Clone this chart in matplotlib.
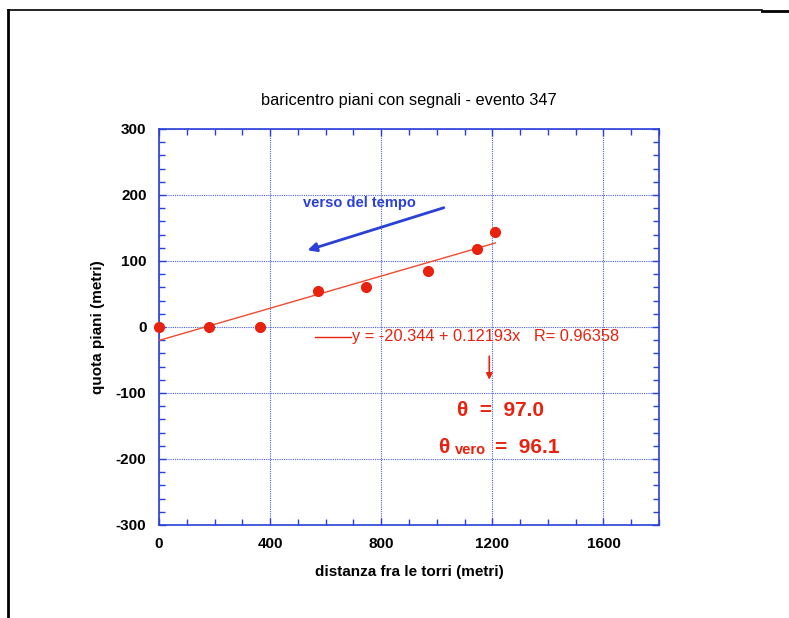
import numpy as np
import matplotlib.pyplot as plt
from matplotlib.ticker import MultipleLocator
from matplotlib.lines import Line2D

# baricentro piani con segnali - evento 347
dist = [0, 181, 364, 572, 744, 970, 1143, 1211]
quota = [0, 0, 0, 54.5, 60.5, 85, 118, 144]

intercept = -20.344
slope = 0.12193
fit_x = [0, 1211]

x_ticks = [0, 400, 800, 1200, 1600]
y_ticks = [-300, -200, -100, 0, 100, 200, 300]

BLUE = "#2a40d8"
RED = "#e8220e"

plt.rcParams["font.family"] = ["Liberation Sans", "DejaVu Sans"]
plt.rcParams["axes.unicode_minus"] = False

fig = plt.figure(figsize=(7.89, 6.18), dpi=100)
ax = fig.add_axes([159 / 789, 93 / 618, 500 / 789, 396 / 618])

ax.set_xlim(0, 1800)
ax.set_ylim(-300, 300)
ax.set_xticks(x_ticks)
ax.set_yticks(y_ticks)
ax.xaxis.set_minor_locator(MultipleLocator(100))
ax.yaxis.set_minor_locator(MultipleLocator(20))
ax.tick_params(which="both", direction="in", top=True, right=True,
               color=BLUE, width=1)
ax.tick_params(which="major", length=5, labelsize=11, pad=9)
ax.tick_params(which="minor", length=4)
for lab in ax.get_xticklabels() + ax.get_yticklabels():
    lab.set_fontweight("bold")
for sp in ax.spines.values():
    sp.set_color(BLUE)
    sp.set_linewidth(1.2)
ax.grid(True, which="major", color="#4a60e0", linestyle=(0, (1, 1)), linewidth=0.8)
ax.set_axisbelow(True)

fx = np.array(fit_x)
ax.plot(fx, intercept + slope * fx, color="#f04a30", linewidth=1, zorder=3)
ax.plot(dist, quota, "o", color=RED, markersize=7, zorder=4, clip_on=False)

ax.set_title("baricentro piani con segnali - evento 347", fontsize=11.8, pad=17)
ax.set_xlabel("distanza fra le torri (metri)", fontsize=11, fontweight="bold", labelpad=10)
ax.set_ylabel("quota piani (metri)", fontsize=11, fontweight="bold", labelpad=8)

# arrow "verso del tempo"
ax.annotate("", xy=(525, 115), xytext=(1035, 182),
            arrowprops=dict(arrowstyle="-|>", color=BLUE, lw=2, mutation_scale=13))
ax.text(720, 178, "verso del tempo", color=BLUE, fontsize=10.5,
        fontweight="bold", ha="center", va="bottom")

# fit legend
ax.plot([560, 690], [-15, -15], color=RED, linewidth=1)
ax.text(695, -15, "y = -20.344 + 0.12193x   R= 0.96358", color=RED,
        fontsize=11.8, ha="left", va="center")

ax.annotate("", xy=(1189, -84), xytext=(1189, -40),
            arrowprops=dict(arrowstyle="-|>", color=RED, lw=1.2, mutation_scale=9))
ax.text(1230, -126, "θ  =  97.0", color=RED, fontsize=15,
        fontweight="bold", ha="center", va="center")
ax.text(1005, -182, "θ", color=RED, fontsize=15, fontweight="bold",
        ha="left", va="center")
ax.text(1067, -186, "vero", color=RED, fontsize=10.5, fontweight="bold",
        ha="left", va="center")
ax.text(1208, -182, "=  96.1", color=RED, fontsize=15, fontweight="bold",
        ha="left", va="center")

# outer frame
fig.add_artist(Line2D([8 / 789, 8 / 789], [0, 608 / 618], color="black", lw=2))
fig.add_artist(Line2D([8 / 789, 762 / 789], [608 / 618, 608 / 618], color="black", lw=1.2))
fig.add_artist(Line2D([762 / 789, 789 / 789], [607 / 618, 607 / 618], color="black", lw=2))

fig.savefig("out.png", dpi=100)
